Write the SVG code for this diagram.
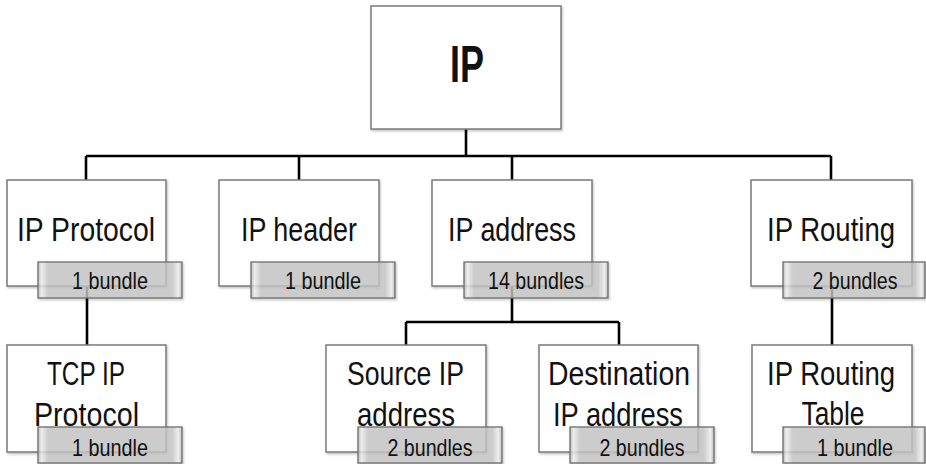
<svg xmlns="http://www.w3.org/2000/svg" width="926" height="464" viewBox="0 0 926 464">
  <defs>
    <linearGradient id="badgeFill" x1="0" y1="0" x2="1" y2="0">
      <stop offset="0" stop-color="#b4b4b4"/>
      <stop offset="0.025" stop-color="#efefef"/>
      <stop offset="0.07" stop-color="#c6c6c6"/>
      <stop offset="0.93" stop-color="#c6c6c6"/>
      <stop offset="0.975" stop-color="#efefef"/>
      <stop offset="1" stop-color="#b4b4b4"/>
    </linearGradient>
    <filter id="shadow" x="-5%" y="-5%" width="115%" height="120%">
      <feDropShadow dx="1" dy="1.5" stdDeviation="1" flood-color="#000" flood-opacity="0.25"/>
    </filter>
  </defs>
  <style>
    .box { fill: #ffffff; stroke: #7a7a7a; stroke-width: 1.5; filter: url(#shadow); }
    .badge { fill: url(#badgeFill); fill-opacity: 0.8; stroke: #6e6e6e; stroke-width: 1.3; filter: url(#shadow); }
    .label { font-family: "Liberation Sans", Arial, sans-serif; font-size: 34px; fill: #111; text-anchor: middle; }
    .root { font-family: "Liberation Sans", Arial, sans-serif; font-size: 52px; font-weight: bold; fill: #111; text-anchor: middle; }
    .count { font-family: "Liberation Sans", Arial, sans-serif; font-size: 24px; fill: #111; text-anchor: middle; }
    .wire { fill: none; stroke: #000; stroke-width: 2.6; }
  </style>
  <rect width="926" height="464" fill="#ffffff"/>

  <!-- connectors -->
  <g id="connectors" class="wire">
    <path d="M466 129 V156"/>
    <path d="M86 156 H831"/>
    <path d="M86 156 V180"/>
    <path d="M299 156 V180"/>
    <path d="M512 156 V180"/>
    <path d="M831 156 V180"/>
    <path d="M87 286 V345"/>
    <path d="M512 286 V322"/>
    <path d="M406 322 H619"/>
    <path d="M406 322 V345"/>
    <path d="M619 322 V345"/>
    <path d="M832 286 V345"/>
  </g>

  <!-- root -->
  <g id="node-ip">
    <rect class="box" x="371" y="6" width="190" height="123"/>
    <text class="root" x="467" y="82" textLength="34" lengthAdjust="spacingAndGlyphs">IP</text>
  </g>

  <!-- first level -->
  <g id="node-ip-protocol">
    <rect class="box" x="7" y="180" width="159" height="106"/>
    <text class="label" x="86" y="241" textLength="138" lengthAdjust="spacingAndGlyphs">IP Protocol</text>
    <rect class="badge" x="38" y="262" width="144" height="36"/>
    <text class="count" x="110" y="289" textLength="76" lengthAdjust="spacingAndGlyphs">1 bundle</text>
  </g>

  <g id="node-ip-header">
    <rect class="box" x="219" y="180" width="160" height="106"/>
    <text class="label" x="299" y="241" textLength="116" lengthAdjust="spacingAndGlyphs">IP header</text>
    <rect class="badge" x="251" y="262" width="144" height="36"/>
    <text class="count" x="323" y="289" textLength="76" lengthAdjust="spacingAndGlyphs">1 bundle</text>
  </g>

  <g id="node-ip-address">
    <rect class="box" x="432" y="180" width="160" height="106"/>
    <text class="label" x="512" y="241" textLength="128" lengthAdjust="spacingAndGlyphs">IP address</text>
    <rect class="badge" x="464" y="262" width="144" height="36"/>
    <text class="count" x="536" y="289" textLength="96" lengthAdjust="spacingAndGlyphs">14 bundles</text>
  </g>

  <g id="node-ip-routing">
    <rect class="box" x="751" y="180" width="161" height="106"/>
    <text class="label" x="831" y="241" textLength="128" lengthAdjust="spacingAndGlyphs">IP Routing</text>
    <rect class="badge" x="783" y="262" width="142" height="36"/>
    <text class="count" x="855" y="289" textLength="85" lengthAdjust="spacingAndGlyphs">2 bundles</text>
  </g>

  <!-- second level -->
  <g id="node-tcp-ip-protocol">
    <rect class="box" x="7" y="345" width="159" height="107"/>
    <text class="label" x="86" y="385" textLength="78" lengthAdjust="spacingAndGlyphs">TCP IP</text>
    <text class="label" x="86.5" y="426" textLength="105" lengthAdjust="spacingAndGlyphs">Protocol</text>
    <rect class="badge" x="38" y="427" width="144" height="36"/>
    <text class="count" x="110" y="456" textLength="76" lengthAdjust="spacingAndGlyphs">1 bundle</text>
  </g>

  <g id="node-source-ip-address">
    <rect class="box" x="326" y="345" width="160" height="107"/>
    <text class="label" x="405.5" y="385" textLength="117" lengthAdjust="spacingAndGlyphs">Source IP</text>
    <text class="label" x="406" y="426" textLength="98" lengthAdjust="spacingAndGlyphs">address</text>
    <rect class="badge" x="358" y="427" width="144" height="36"/>
    <text class="count" x="430" y="456" textLength="85" lengthAdjust="spacingAndGlyphs">2 bundles</text>
  </g>

  <g id="node-destination-ip-address">
    <rect class="box" x="539" y="345" width="159" height="107"/>
    <text class="label" x="619" y="385" textLength="142" lengthAdjust="spacingAndGlyphs">Destination</text>
    <text class="label" x="618" y="426" textLength="130" lengthAdjust="spacingAndGlyphs">IP address</text>
    <rect class="badge" x="570" y="427" width="144" height="36"/>
    <text class="count" x="642" y="456" textLength="85" lengthAdjust="spacingAndGlyphs">2 bundles</text>
  </g>

  <g id="node-ip-routing-table">
    <rect class="box" x="752" y="345" width="160" height="107"/>
    <text class="label" x="831" y="385" textLength="128" lengthAdjust="spacingAndGlyphs">IP Routing</text>
    <text class="label" x="833" y="425" textLength="63" lengthAdjust="spacingAndGlyphs">Table</text>
    <rect class="badge" x="783" y="427" width="142" height="36"/>
    <text class="count" x="855" y="456" textLength="76" lengthAdjust="spacingAndGlyphs">1 bundle</text>
  </g>
</svg>
